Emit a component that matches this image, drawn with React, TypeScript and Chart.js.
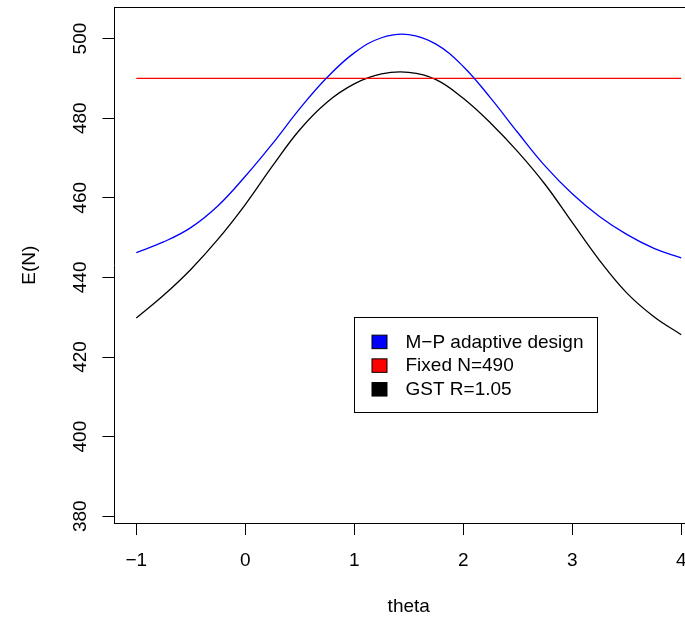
import { useEffect, useRef } from "react";
import { Chart, registerables } from "chart.js";

Chart.register(...registerables);

// ---- data ----
const theta = [-1, -0.75, -0.5, -0.25, 0, 0.25, 0.5, 0.75, 1, 1.25, 1.5, 1.75, 2, 2.25, 2.5, 2.75, 3, 3.25, 3.5, 3.75, 4];
const mpAdaptive = [446.2, 448.9, 452.5, 458.0, 465.4, 473.6, 482.4, 490.2, 496.4, 500.2, 501.0, 498.6, 493.0, 485.1, 476.4, 468.0, 461.0, 455.3, 450.8, 447.3, 444.9];
const gstValues = [429.8, 435.5, 442.0, 449.6, 458.3, 468.0, 477.1, 484.0, 488.6, 491.1, 491.5, 489.7, 485.0, 478.8, 471.6, 463.4, 453.8, 444.3, 436.1, 430.1, 425.6];
const fixedTheta = [-1, 4];
const fixedN = [490, 490];
const xTicks = [-1, 0, 1, 2, 3, 4];
const yTicks = [380, 400, 420, 440, 460, 480, 500];
const seriesLabels = ["M\u2212P adaptive design", "Fixed N=490", "GST R=1.05"];
const seriesColors = ["#0000ff", "#ff0000", "#000000"];
const xTitle = "theta";
const yTitle = "E(N)";
const legendAt = [1, 430];

const FONT = "'Liberation Sans', Arial, Helvetica, sans-serif";

const legendPlugin = {
  id: "rLegend",
  afterDraw(chart: any) {
    const { ctx } = chart;
    const xs = chart.scales.x;
    const ys = chart.scales.y;
    const left = Math.round(xs.getPixelForValue(legendAt[0])) + 0.5;
    const top = Math.round(ys.getPixelForValue(legendAt[1])) + 0.5;
    const w = 243;
    const h = 95;
    ctx.save();
    ctx.fillStyle = "#ffffff";
    ctx.fillRect(left, top, w, h);
    ctx.strokeStyle = "#000000";
    ctx.lineWidth = 1;
    ctx.strokeRect(left, top, w, h);
    ctx.font = `19px ${FONT}`;
    ctx.textBaseline = "middle";
    ctx.textAlign = "left";
    const rowGap = 23.7;
    seriesLabels.forEach((lab, i) => {
      const cy = top + 24.4 + i * rowGap;
      ctx.fillStyle = seriesColors[i];
      ctx.fillRect(left + 17.5, cy - 6.75, 15, 13.5);
      ctx.strokeStyle = "#000000";
      ctx.strokeRect(left + 17.5, cy - 6.75, 15, 13.5);
      ctx.fillStyle = "#000000";
      ctx.fillText(lab, left + 51, cy + 0.5);
    });
    ctx.restore();
  },
};

export default function App() {
  const ref = useRef<HTMLCanvasElement | null>(null);

  useEffect(() => {
    if (!ref.current) return;
    Chart.defaults.font.family = FONT;
    Chart.defaults.font.size = 19;
    Chart.defaults.color = "#000000";

    const chart = new Chart(ref.current, {
      type: "line",
      data: {
        datasets: [
          {
            label: seriesLabels[0],
            data: theta.map((t, i) => ({ x: t, y: mpAdaptive[i] })),
            borderColor: seriesColors[0],
            borderWidth: 1.3,
            pointRadius: 0,
            tension: 0.4,
            fill: false,
          },
          {
            label: seriesLabels[1],
            data: fixedTheta.map((t, i) => ({ x: t, y: fixedN[i] })),
            borderColor: seriesColors[1],
            borderWidth: 1.3,
            pointRadius: 0,
            fill: false,
          },
          {
            label: seriesLabels[2],
            data: theta.map((t, i) => ({ x: t, y: gstValues[i] })),
            borderColor: seriesColors[2],
            borderWidth: 1.3,
            pointRadius: 0,
            tension: 0.4,
            fill: false,
          },
        ],
      },
      options: {
        animation: false,
        responsive: false,
        devicePixelRatio: 1,
        layout: { padding: { left: 0, top: 7.5, right: 57, bottom: 0 } },
        plugins: { legend: { display: false }, tooltip: { enabled: false } },
        scales: {
          x: {
            type: "linear",
            position: "bottom",
            min: -1.2,
            max: 4.2,
            afterBuildTicks: (s: any) => {
              s.ticks = xTicks.map((v) => ({ value: v }));
            },
            afterFit: (s: any) => {
              s.height = 95;
              s.paddingLeft = 0;
              s.paddingRight = 0;
            },
            ticks: { padding: 14.7, autoSkip: false, maxRotation: 0, minRotation: 0, callback: (v: any) => (v < 0 ? "\u2212" + Math.abs(v) : String(v)) },
            grid: { drawOnChartArea: false, drawTicks: true, tickLength: 12, tickColor: "#000", color: "#000" },
            border: { display: true, color: "#000", width: 1 },
            title: { display: true, text: xTitle, padding: 0, font: { size: 19 } },
          },
          xTop: {
            type: "linear",
            position: "top",
            min: -1.2,
            max: 4.2,
            afterFit: (s: any) => {
              s.height = 0;
              s.paddingLeft = 0;
              s.paddingRight = 0;
            },
            ticks: { display: false },
            grid: { display: false, drawTicks: false, drawOnChartArea: false },
            border: { display: true, color: "#000", width: 1 },
          },
          y: {
            type: "linear",
            position: "left",
            min: 378.3,
            max: 507.8,
            afterBuildTicks: (s: any) => {
              s.ticks = yTicks.map((v) => ({ value: v }));
            },
            afterFit: (s: any) => {
              s.width = 114.5;
              s.paddingTop = 0;
              s.paddingBottom = 0;
            },
            ticks: { padding: 6, autoSkip: false, minRotation: 90, maxRotation: 90, crossAlign: "center" },
            grid: { drawOnChartArea: false, drawTicks: true, tickLength: 12, tickColor: "#000", color: "#000" },
            border: { display: true, color: "#000", width: 1 },
            title: { display: true, text: yTitle, padding: { top: 18, bottom: 0 }, font: { size: 19 } },
          },
        },
      },
      plugins: [legendPlugin],
    } as any);

    return () => chart.destroy();
  }, []);

  return (
    <div style={{ position: "absolute", left: 0, top: 0, width: 685, height: 618, overflow: "hidden", background: "#fff" }}>
      <canvas ref={ref} width={760} height={618} style={{ width: 760, height: 618, display: "block" }} />
    </div>
  );
}
